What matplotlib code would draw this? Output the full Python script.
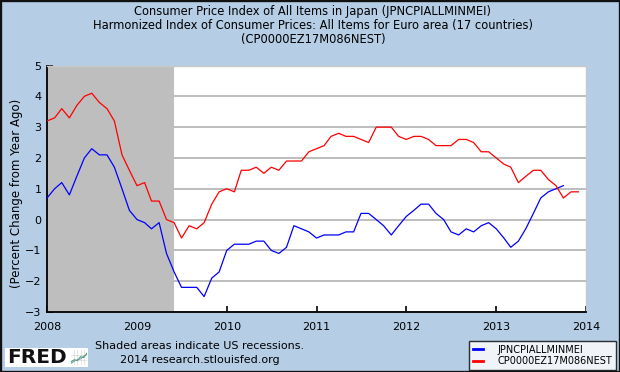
import matplotlib
matplotlib.use("Agg")
import matplotlib.pyplot as plt
import matplotlib.dates as mdates
from matplotlib.patches import Rectangle
from matplotlib.lines import Line2D
import pandas as pd
import numpy as np

# ---------------- data ----------------
japan_cpi = [
    0.7, 1.0, 1.2, 0.8, 1.4, 2.0, 2.3, 2.1, 2.1, 1.7, 1.0, 0.3,
    0.0, -0.1, -0.3, -0.1, -1.1, -1.7, -2.2, -2.2, -2.2, -2.5, -1.9, -1.7,
    -1.0, -0.8, -0.8, -0.8, -0.7, -0.7, -1.0, -1.1, -0.9, -0.2, -0.3, -0.4,
    -0.6, -0.5, -0.5, -0.5, -0.4, -0.4, 0.2, 0.2, 0.0, -0.2, -0.5, -0.2,
    0.1, 0.3, 0.5, 0.5, 0.2, 0.0, -0.4, -0.5, -0.3, -0.4, -0.2, -0.1,
    -0.3, -0.6, -0.9, -0.7, -0.3, 0.2, 0.7, 0.9, 1.0, 1.1,
]
euro_hicp = [
    3.2, 3.3, 3.6, 3.3, 3.7, 4.0, 4.1, 3.8, 3.6, 3.2, 2.1, 1.6,
    1.1, 1.2, 0.6, 0.6, 0.0, -0.1, -0.6, -0.2, -0.3, -0.1, 0.5, 0.9,
    1.0, 0.9, 1.6, 1.6, 1.7, 1.5, 1.7, 1.6, 1.9, 1.9, 1.9, 2.2,
    2.3, 2.4, 2.7, 2.8, 2.7, 2.7, 2.6, 2.5, 3.0, 3.0, 3.0, 2.7,
    2.6, 2.7, 2.7, 2.6, 2.4, 2.4, 2.4, 2.6, 2.6, 2.5, 2.2, 2.2,
    2.0, 1.8, 1.7, 1.2, 1.4, 1.6, 1.6, 1.3, 1.1, 0.7, 0.9, 0.9,
]
series_start = "2008-01-01"
recession_start = "2008-01-01"
recession_end = "2009-06-01"
x_range = ("2008-01-01", "2014-01-01")
y_ticks = [-3, -2, -1, 0, 1, 2, 3, 4, 5]
series_labels = ["JPNCPIALLMINMEI", "CP0000EZ17M086NEST"]
title_lines = [
    "Consumer Price Index of All Items in Japan (JPNCPIALLMINMEI)",
    "Harmonized Index of Consumer Prices: All Items for Euro area (17 countries)",
    "(CP0000EZ17M086NEST)",
]
y_label = "(Percent Change from Year Ago)"
note_lines = ["Shaded areas indicate US recessions.", "2014 research.stlouisfed.org"]
logo_trend = [0.2, 0.35, 0.3, 0.55, 0.5, 0.8]
logo_trend2 = [0.1, 0.25, 0.35, 0.4, 0.6, 0.7]

# ---------------- style ----------------
BG = "#B5CDE5"
plt.rcParams["font.family"] = ["DejaVu Sans"]

fig = plt.figure(figsize=(6.2, 3.72), dpi=100, facecolor=BG)
W, H = 620.0, 372.0
ax = fig.add_axes([47 / W, 1 - 312 / H, (586 - 47) / W, (312 - 65.5) / H])
ax.set_facecolor("white")

dates_jp = pd.date_range(series_start, periods=len(japan_cpi), freq="MS")
dates_eu = pd.date_range(series_start, periods=len(euro_hicp), freq="MS")

ax.axvspan(pd.Timestamp(recession_start), pd.Timestamp(recession_end),
           color="#BEBEBE", zorder=1, lw=0)
ax.plot(dates_jp, japan_cpi, color="#0000FF", lw=0.9, zorder=3)
ax.plot(dates_eu, euro_hicp, color="#FF0000", lw=0.9, zorder=3)

ax.set_xlim(pd.Timestamp(x_range[0]), pd.Timestamp(x_range[1]))
ax.set_ylim(min(y_ticks), max(y_ticks))
ax.set_yticks(y_ticks)
ax.xaxis.set_major_locator(mdates.YearLocator())
ax.xaxis.set_major_formatter(mdates.DateFormatter("%Y"))

ax.yaxis.grid(True, color="#BDBDBD", lw=1.4, zorder=0)
ax.set_axisbelow(True)
ax.tick_params(axis="both", direction="in", length=4, width=1.2, color="black",
               labelsize=8)
ax.tick_params(axis="y", pad=4)
ax.tick_params(axis="x", pad=7)
for s in ["left", "bottom"]:
    ax.spines[s].set_color("black")
    ax.spines[s].set_linewidth(1.3)
for s in ["top", "right"]:
    ax.spines[s].set_color("#C8C8C8")
    ax.spines[s].set_linewidth(1.0)

ax.set_ylabel(y_label, fontsize=8.5)
ax.yaxis.set_label_coords(-0.044, 0.48)

# titles
for t, yy in zip(title_lines, [11, 25, 39]):
    fig.text(313 / W, 1 - yy / H, t, ha="center", va="center", fontsize=8.3)

# notes
for t, yy in zip(note_lines, [345.7, 359.7]):
    fig.text(200 / W, 1 - yy / H, t, ha="center", va="center", fontsize=8.0)

# legend
handles = [Line2D([], [], color="#0000FF", lw=2),
           Line2D([], [], color="#FF0000", lw=2)]
leg = fig.legend(handles, series_labels, loc="lower right",
                 bbox_to_anchor=(616 / W, 1 - 370 / H), fontsize=7,
                 frameon=True, fancybox=False, handlelength=1.0,
                 handletextpad=1.5, borderpad=0.4, labelspacing=0.15,
                 borderaxespad=0.0)
leg.get_frame().set_edgecolor("black")
leg.get_frame().set_linewidth(1.0)
leg.get_frame().set_facecolor("white")

# FRED logo
fig.patches.append(Rectangle((5 / W, 1 - 367 / H), 83 / W, 19 / H,
                             transform=fig.transFigure, facecolor="white",
                             edgecolor="none", zorder=-1))
fig.text(7 / W, 1 - 357.5 / H, "FRED", ha="left", va="center",
         fontsize=14.5, fontweight="heavy", color="#111111", zorder=2)
iax = fig.add_axes([71 / W, 1 - 365 / H, 16 / W, 15 / H])
iax.set_facecolor("white")
iax.plot(range(len(logo_trend)), logo_trend, color="#4CA64C", lw=0.8)
iax.plot(range(len(logo_trend2)), logo_trend2, color="#6A8FC8", lw=0.6)
iax.set_xlim(0, len(logo_trend) - 1)
iax.set_ylim(0, 1)
iax.set_xticks([1, 2, 3, 4])
iax.set_yticks([0.33, 0.66])
iax.grid(True, color="#D0D0D0", lw=0.4)
iax.tick_params(length=0, labelbottom=False, labelleft=False)
for s in iax.spines.values():
    s.set_visible(False)

# figure border
fig.patches.append(Rectangle((0, 0), 1, 1, transform=fig.transFigure,
                             facecolor="none", edgecolor="#111111", lw=2.4,
                             zorder=10))

fig.savefig("out.png", dpi=100, facecolor=BG)
